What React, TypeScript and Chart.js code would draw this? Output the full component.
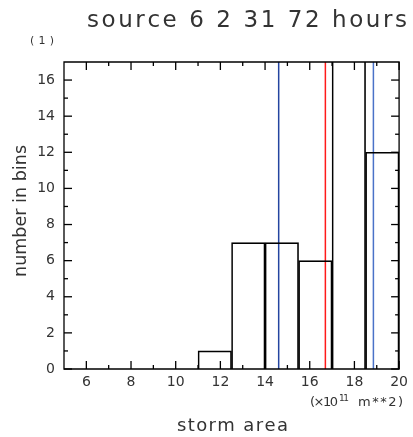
import React, { useEffect, useRef } from "react";
import { Chart, registerables } from "chart.js";

Chart.register(...registerables);

// ---- data ----
const binCenters = [11.75, 13.25, 14.75, 16.25, 17.75, 19.25];
const binCounts = [1, 7, 7, 6, 20, 12]; // 5th bin runs off the top of the plot
const markerBlue1 = 14.61;
const markerRed = 16.7;
const markerBlue2 = 18.85;
const xMajorTicks = [6, 8, 10, 12, 14, 16, 18, 20];
const xMinorTicks = [7, 9, 11, 13, 15, 17, 19];
const yMajorTicks = [0, 2, 4, 6, 8, 10, 12, 14, 16];
const yMinorTicks = [1, 3, 5, 7, 9, 11, 13, 15];
const titleText = "source 6 2 31 72 hours";
const panelLabel = "(1)";
const yTitle = "number in bins";
const xTitle = "storm area";
const xMin = 5;
const xMax = 20;
const yMin = 0;
const yMax = 17;

const FONT = "'DejaVu Sans', sans-serif";
const TEXT = "#333";

function drawSpaced(ctx: CanvasRenderingContext2D, text: string, x: number, y: number, target: number) {
  const chars = Array.from(text);
  const widths = chars.map((c) => ctx.measureText(c).width);
  const total = widths.reduce((a, b) => a + b, 0);
  const ls = chars.length > 1 ? (target - total) / (chars.length - 1) : 0;
  let cx = x;
  chars.forEach((c, i) => {
    ctx.fillText(c, cx, y);
    cx += widths[i] + ls;
  });
}

function drawFrame(chart: any) {
  const ctx: CanvasRenderingContext2D = chart.ctx;
  const area = chart.chartArea;
  const xs = chart.scales["x"];
  const ys = chart.scales["y"];
  const left = area.left;
  const right = area.right;
  const top = area.top;
  const bottom = area.bottom;
  ctx.save();
  ctx.strokeStyle = "#000";
  ctx.lineWidth = 1.3;
  ctx.beginPath();
  ctx.rect(left, top, right - left, bottom - top);
  ctx.stroke();
  ctx.fillStyle = "#000";
  const major = 8;
  const minor = 4;
  const w = 1.3;
  // ticks drawn as thin filled rects at scale pixel positions
  for (const v of xMajorTicks) {
    const p = xs.getPixelForValue(v);
    ctx.fillRect(p - w / 2, bottom - major, w, major);
    ctx.fillRect(p - w / 2, top, w, major);
  }
  for (const v of xMinorTicks) {
    const p = xs.getPixelForValue(v);
    ctx.fillRect(p - w / 2, bottom - minor, w, minor);
    ctx.fillRect(p - w / 2, top, w, minor);
  }
  for (const v of yMajorTicks) {
    const p = ys.getPixelForValue(v);
    ctx.fillRect(left, p - w / 2, major, w);
    ctx.fillRect(right - major, p - w / 2, major, w);
  }
  for (const v of yMinorTicks) {
    const p = ys.getPixelForValue(v);
    ctx.fillRect(left, p - w / 2, minor, w);
    ctx.fillRect(right - minor, p - w / 2, minor, w);
  }
  ctx.restore();
}

function drawTexts(chart: any) {
  const ctx: CanvasRenderingContext2D = chart.ctx;
  ctx.save();
  ctx.fillStyle = TEXT;
  ctx.textBaseline = "alphabetic";
  ctx.textAlign = "left";

  ctx.font = `23px ${FONT}`;
  drawSpaced(ctx, titleText, 87, 27, 320);

  ctx.font = `11px ${FONT}`;
  drawSpaced(ctx, panelLabel, 30, 44, 24);

  ctx.font = `18px ${FONT}`;
  drawSpaced(ctx, xTitle, 177, 431, 111);

  ctx.save();
  ctx.translate(26, 277);
  ctx.rotate(-Math.PI / 2);
  ctx.font = `17.5px ${FONT}`;
  drawSpaced(ctx, yTitle, 0, 0, 132);
  ctx.restore();

  // units label
  let ux = 310;
  const ub = 405.5;
  ctx.font = `13px ${FONT}`;
  drawSpaced(ctx, "(\u00d710", ux, ub, 28);
  ux += 29;
  ctx.font = `9px ${FONT}`;
  drawSpaced(ctx, "11", ux, ub - 5, 10);
  ux += 19;
  ctx.font = `13px ${FONT}`;
  drawSpaced(ctx, "m**2)", ux, ub, 45);
  ctx.restore();
}

const framePlugin = {
  id: "frameTicks",
  afterDraw(chart: any) {
    drawFrame(chart);
    drawTexts(chart);
  },
};

export default function App() {
  const ref = useRef<HTMLCanvasElement | null>(null);
  useEffect(() => {
    if (!ref.current) return;
    const vline = (x: number, color: string) => ({
      type: "line" as const,
      data: [
        { x, y: yMin },
        { x, y: yMax },
      ],
      borderColor: color,
      borderWidth: 1.5,
      pointRadius: 0,
      fill: false,
    });
    const chart = new Chart(ref.current, {
      type: "bar",
      data: {
        datasets: [
          {
            type: "bar",
            data: binCenters.map((x, i) => ({ x, y: binCounts[i] })),
            backgroundColor: "rgba(0,0,0,0)",
            borderColor: "#000",
            borderWidth: 1,
            barPercentage: 1,
            categoryPercentage: 1,
            grouped: false,
          } as any,
          vline(markerBlue1, "#2444a0") as any,
          vline(markerRed, "#ff1a1a") as any,
          vline(markerBlue2, "#4a72c8") as any,
        ],
      },
      options: {
        animation: false,
        responsive: true,
        maintainAspectRatio: false,
        layout: { padding: { top: 62, right: 10, left: 0, bottom: 0 } },
        plugins: { legend: { display: false }, tooltip: { enabled: false }, title: { display: false } },
        scales: {
          x: {
            type: "linear",
            offset: false,
            min: xMin,
            max: xMax,
            grid: { display: false, drawTicks: false },
            border: { display: false },
            ticks: {
              font: { family: FONT, size: 14 },
              color: TEXT,
              padding: 5,
              maxRotation: 0,
            },
            afterBuildTicks: (s: any) => {
              s.ticks = xMajorTicks.map((v) => ({ value: v }));
            },
            afterFit: (s: any) => {
              s.height = 68;
            },
          },
          y: {
            type: "linear",
            min: yMin,
            max: yMax,
            grid: { display: false, drawTicks: false },
            border: { display: false },
            ticks: {
              font: { family: FONT, size: 14 },
              color: TEXT,
              padding: 9,
            },
            afterBuildTicks: (s: any) => {
              s.ticks = yMajorTicks.map((v) => ({ value: v }));
            },
            afterFit: (s: any) => {
              s.width = 64;
            },
          },
        },
      } as any,
      plugins: [framePlugin],
    });
    return () => chart.destroy();
  }, []);
  return (
    <div style={{ position: "fixed", left: 0, top: 0, width: 413, height: 437, background: "#fff" }}>
      <canvas ref={ref} />
    </div>
  );
}
